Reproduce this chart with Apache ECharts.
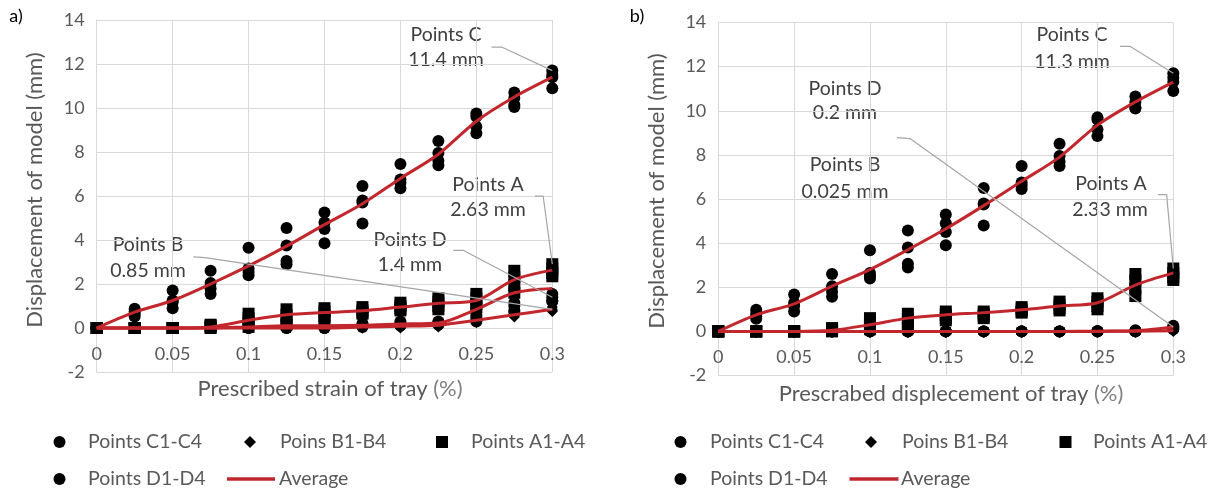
<!DOCTYPE html>
<html>
<head>
<meta charset="utf-8">
<script src="https://cdn.jsdelivr.net/npm/echarts@6/dist/echarts.min.js"></script>
<style>
  html, body { margin: 0; padding: 0; background: #fff; }
  #chart { width: 1213px; height: 492px; }
</style>
</head>
<body>
<div id="chart"></div>
<script>
// Prescribed strain / displacement steps of the tray (%)
const strain = [0, 0.025, 0.05, 0.075, 0.1, 0.125, 0.15, 0.175, 0.2, 0.225, 0.25, 0.275, 0.3];
const xTicks = ['0', '0.05', '0.1', '0.15', '0.2', '0.25', '0.3'];
const yTicks = ['-2', '0', '2', '4', '6', '8', '10', '12', '14'];

// ---- Panel a): displacement of model points (mm), four gauges per step ----
const aPointsC = [
  [0, 0, 0, 0], [0.88, 0.75, 0.65, 0.52], [1.7, 1.25, 1.17, 0.9], [2.6, 2.05, 1.8, 1.55],
  [3.65, 2.7, 2.55, 2.4], [4.55, 3.75, 3.05, 2.9], [5.25, 4.8, 4.5, 3.85], [6.45, 5.8, 5.7, 4.75],
  [7.45, 6.75, 6.6, 6.35], [8.5, 7.95, 7.6, 7.4], [9.75, 9.6, 9.15, 8.85], [10.7, 10.45, 10.15, 10.05],
  [11.7, 11.5, 11.4, 10.9]
];
const aPointsB = [
  [0, 0, 0, 0], [0, 0, 0, 0], [0, 0, 0, 0], [0, 0, 0, 0], [0, 0, 0, 0], [0, 0, 0, 0], [0, 0, 0, 0],
  [0.1, 0.05, 0, 0], [0.15, 0.1, 0.05, 0], [0.2, 0.15, 0.1, 0.05], [0.45, 0.35, 0.3, 0.25],
  [0.75, 0.6, 0.55, 0.5], [0.95, 0.85, 0.8, 0.75]
];
const aPointsA = [
  [0, 0, 0, 0], [0, 0, 0, 0], [0, 0, 0, 0], [0.15, 0.1, 0.05, 0], [0.65, 0.45, 0.25, 0.05],
  [0.85, 0.6, 0.4, 0.15], [0.9, 0.75, 0.55, 0.4], [0.95, 0.8, 0.7, 0.65], [1.15, 1.0, 0.9, 0.8],
  [1.35, 1.2, 1.0, 0.85], [1.55, 1.35, 1.1, 0.95], [2.6, 2.3, 1.95, 1.6], [2.9, 2.7, 2.5, 2.35]
];
const aPointsD = [
  [0, 0, 0, 0], [0, 0, 0, 0], [0, 0, 0, 0], [0, 0, 0, 0], [0.15, 0.05, 0, 0], [0.3, 0.1, 0, 0],
  [0.3, 0.1, 0, 0], [0.2, 0.15, 0.1, 0.05], [0.3, 0.2, 0.15, 0.1], [0.3, 0.25, 0.2, 0.15],
  [0.6, 0.5, 0.35, 0.3], [1.15, 1.0, 0.8, 0.7], [1.55, 1.4, 1.25, 1.2]
];
const aAvgC = [0, 0.72, 1.25, 2.0, 2.82, 3.72, 4.7, 5.65, 6.8, 7.9, 9.4, 10.5, 11.4];
const aAvgA = [0, 0, 0, 0.05, 0.35, 0.6, 0.7, 0.78, 0.95, 1.12, 1.25, 2.2, 2.63];
const aAvgD = [0, 0, 0, 0, 0.05, 0.1, 0.1, 0.12, 0.18, 0.23, 0.85, 1.6, 1.8];
const aAvgB = [0, 0, 0, 0, 0, 0, 0, 0.04, 0.08, 0.13, 0.35, 0.6, 0.85];

// ---- Panel b) ----
const bPointsC = [
  [0, 0, 0, 0], [0.98, 0.8, 0.68, 0.57], [1.67, 1.3, 1.15, 0.9], [2.6, 2.05, 1.8, 1.57],
  [3.68, 2.65, 2.5, 2.4], [4.57, 3.8, 3.07, 2.9], [5.3, 4.9, 4.5, 3.9], [6.5, 5.8, 5.75, 4.8],
  [7.5, 6.75, 6.6, 6.45], [8.5, 7.95, 7.7, 7.5], [9.7, 9.6, 9.15, 8.85], [10.65, 10.4, 10.15, 10.1],
  [11.7, 11.5, 11.3, 10.9]
];
const bPointsB = [
  [0, 0, 0, 0], [0, 0, 0, 0], [0, 0, 0, 0], [0, 0, 0, 0], [0, 0, 0, 0], [0, 0, 0, 0], [0, 0, 0, 0],
  [0, 0, 0, 0], [0, 0, 0, 0], [0, 0, 0, 0], [0, 0, 0, 0], [0.02, 0, 0, 0], [0.1, 0.05, 0.025, 0]
];
const bPointsA = [
  [0, 0, 0, 0], [0, 0, 0, 0], [0, 0, 0, 0], [0.15, 0.1, 0.05, 0], [0.6, 0.4, 0.25, 0.1],
  [0.8, 0.55, 0.35, 0.15], [0.9, 0.75, 0.6, 0.5], [0.9, 0.8, 0.7, 0.6], [1.1, 1.0, 0.9, 0.85],
  [1.35, 1.2, 1.05, 0.95], [1.5, 1.35, 1.15, 1.0], [2.6, 2.3, 1.95, 1.6], [2.85, 2.65, 2.45, 2.33]
];
const bPointsD = [
  [0, 0, 0, 0], [0, 0, 0, 0], [0, 0, 0, 0], [0, 0, 0, 0], [0, 0, 0, 0], [0, 0, 0, 0], [0, 0, 0, 0],
  [0, 0, 0, 0], [0, 0, 0, 0], [0, 0, 0, 0], [0.02, 0, 0, 0], [0.05, 0, 0, 0], [0.25, 0.2, 0.15, 0.1]
];
const bAvgC = [0, 0.75, 1.25, 2.05, 2.8, 3.7, 4.65, 5.7, 6.8, 7.9, 9.35, 10.4, 11.3];
const bAvgA = [0, 0, 0, 0.05, 0.3, 0.6, 0.75, 0.85, 0.98, 1.15, 1.3, 2.1, 2.65];
const bAvgD = [0, 0, 0, 0, 0, 0, 0, 0, 0, 0, 0.01, 0.03, 0.2];
const bAvgB = [0, 0, 0, 0, 0, 0, 0, 0, 0, 0, 0, 0.005, 0.025];

// Callout leader lines in data units (x in %, y in mm)
const aLeaderC = [[0.260, 12.77], [0.2666, 12.77], [0.3, 11.7]];
const aLeaderA = [[0.2885, 5.99], [0.294, 5.99], [0.3, 2.9]];
const aLeaderD = [[0.2348, 3.53], [0.2413, 3.53], [0.3, 1.4]];
const aLeaderB = [[0.0636, 3.23], [0.0713, 3.2], [0.3, 0.85]];
const bLeaderC = [[0.2649, 12.92], [0.2714, 12.92], [0.3, 11.7]];
const bLeaderA = [[0.29, 6.2], [0.2956, 6.2], [0.3, 2.85]];
const bLeaderD = [[0.1178, 8.78], [0.1264, 8.74], [0.3, 0.2]];

const FONT = 'Lato, "Open Sans", sans-serif';
const TXT = '#595959';
const RED = '#c1272d';
const GRID = '#d9d9d9';
const Y_MIN = -2, Y_MAX = 14;

// Plot areas of the two panels
const grids = [
  { left: 96.7, top: 20, width: 455.6, height: 352 },
  { left: 718.3, top: 22.5, width: 455, height: 353 }
];

function pairs(values) {
  const out = [];
  values.forEach((vals, i) => vals.forEach(v => out.push([strain[i], v])));
  return out;
}
function line(values) { return values.map((v, i) => [strain[i], v]); }

// The horizontal axis crosses the vertical one at 0: shift it up from the bottom edge
const xAxisBase = (gridIndex) => ({
  type: 'value', gridIndex, min: 0, max: 0.3, interval: 0.05, position: 'bottom',
  offset: -grids[gridIndex].height * (0 - Y_MIN) / (Y_MAX - Y_MIN),
  axisLine: { onZero: false, lineStyle: { color: GRID, width: 1 } },
  axisTick: { show: false },
  axisLabel: {
    color: TXT, fontSize: 18, fontFamily: FONT, margin: 17,
    formatter: (v) => xTicks[Math.round(v / 0.05)]
  },
  splitLine: { show: true, lineStyle: { color: GRID, width: 1 } }
});
const yAxisBase = (gridIndex) => ({
  type: 'value', gridIndex, min: Y_MIN, max: Y_MAX, interval: 2,
  axisLine: { show: true, onZero: false, lineStyle: { color: GRID, width: 1 } },
  axisTick: { show: false },
  axisLabel: {
    color: TXT, fontSize: 18, fontFamily: FONT, margin: 12,
    formatter: (v) => yTicks[Math.round((v - Y_MIN) / 2)]
  },
  splitLine: { show: true, lineStyle: { color: GRID, width: 1 } }
});

function scatter(name, data, symbol, size, idx) {
  return {
    name, type: 'scatter', xAxisIndex: idx, yAxisIndex: idx,
    data: pairs(data), symbol, symbolSize: size,
    itemStyle: { color: '#000', opacity: 1 }, z: 3, silent: true
  };
}
function avg(data, idx) {
  return {
    name: 'Average', type: 'line', xAxisIndex: idx, yAxisIndex: idx,
    data: line(data), smooth: 0.3, showSymbol: false, symbol: 'none',
    lineStyle: { color: RED, width: 3 }, itemStyle: { color: RED }, z: 4, silent: true
  };
}
function leader(pts, idx) {
  return {
    type: 'line', xAxisIndex: idx, yAxisIndex: idx, data: pts,
    symbol: 'none', showSymbol: false,
    lineStyle: { color: '#a6a6a6', width: 1.2 }, z: 5, silent: true
  };
}

function panelSeries(idx, C, B, A, D, avgC, avgA, avgD, avgB) {
  return [
    scatter('Points C1-C4', C, 'circle', 12, idx),
    scatter('Poins B1-B4', B, 'diamond', 11, idx),
    scatter('Points A1-A4', A, 'rect', 12, idx),
    scatter('Points D1-D4', D, 'circle', 12, idx),
    avg(avgC, idx), avg(avgA, idx), avg(avgD, idx), avg(avgB, idx)
  ];
}

// Legend entries placed one by one.
// marks: [iconCenterX, textLeft] for C, B, A, D; avgLine: [lineStart, lineEnd, textLeft]
const LEG_FONT = 19.5;
function legends(marks, avgLine) {
  const items = [
    { name: 'Points C1-C4', icon: 'circle', row: 0 },
    { name: 'Poins B1-B4', icon: 'diamond', row: 0 },
    { name: 'Points A1-A4', icon: 'rect', row: 0 },
    { name: 'Points D1-D4', icon: 'circle', row: 1 }
  ];
  const rowTop = [432, 469];
  const out = items.map((it, i) => {
    const iconLeft = marks[i][0] - 6;
    return {
      left: iconLeft, top: rowTop[it.row], padding: 0,
      itemWidth: 12, itemHeight: 12, selectedMode: false,
      data: [{ name: it.name, icon: it.icon }],
      textStyle: { color: TXT, fontSize: LEG_FONT, fontFamily: FONT,
        padding: [0, 0, 0, marks[i][1] - iconLeft - 17] }
    };
  });
  const w = avgLine[1] - avgLine[0];
  out.push({
    left: avgLine[0], top: rowTop[1], padding: 0, itemWidth: w, itemHeight: 3.5, selectedMode: false,
    data: [{ name: 'Average', icon: 'rect' }],
    textStyle: { color: TXT, fontSize: LEG_FONT, fontFamily: FONT,
      padding: [0, 0, 0, avgLine[2] - avgLine[0] - w - 5] }
  });
  return out;
}

function txt(text, x, y, size, color) {
  return {
    type: 'text', x, y, silent: true,
    style: { text, fill: color || '#404040', font: size + 'px ' + FONT,
      textAlign: 'center', textVerticalAlign: 'middle', align: 'center', verticalAlign: 'middle' }
  };
}
function vtxt(text, x, y) {
  return {
    type: 'text', x, y, rotation: Math.PI / 2, silent: true,
    style: { text, fill: TXT, font: '22px ' + FONT,
      textAlign: 'center', textVerticalAlign: 'middle', align: 'center', verticalAlign: 'middle' }
  };
}
function xtitle(main, x, y) {
  return {
    type: 'text', x, y, silent: true,
    style: {
      text: '{m|' + main + ' }{p|(%)}',
      rich: {
        m: { fill: TXT, font: '22px ' + FONT },
        p: { fill: '#7f7f7f', font: '22px ' + FONT }
      },
      textAlign: 'center', textVerticalAlign: 'middle', align: 'center', verticalAlign: 'middle'
    }
  };
}

const NOTE = 19.5;
const chart = echarts.init(document.getElementById('chart'), null, { renderer: 'canvas' });
chart.setOption({
  animation: false,
  backgroundColor: '#fff',
  grid: grids,
  xAxis: [xAxisBase(0), xAxisBase(1)],
  yAxis: [yAxisBase(0), yAxisBase(1)],
  legend: legends([[59.5, 88], [250, 280], [442, 471], [59.5, 88]], [227, 275, 279])
    .concat(legends([[680.5, 710], [871, 902], [1065.5, 1093], [680.5, 710]], [849.5, 898.5, 901])),
  series: [].concat(
    panelSeries(0, aPointsC, aPointsB, aPointsA, aPointsD, aAvgC, aAvgA, aAvgD, aAvgB),
    panelSeries(1, bPointsC, bPointsB, bPointsA, bPointsD, bAvgC, bAvgA, bAvgD, bAvgB),
    [leader(aLeaderC, 0), leader(aLeaderA, 0), leader(aLeaderD, 0), leader(aLeaderB, 0),
     leader(bLeaderC, 1), leader(bLeaderA, 1), leader(bLeaderD, 1)]
  ),
  graphic: [
    txt('a)', 16, 16, 18, '#000'),
    txt('b)', 637, 16, 18, '#000'),
    vtxt('Displacement of model (mm)', 35, 190),
    vtxt('Displacement of model (mm)', 657, 191),
    xtitle('Prescribed strain of tray', 330, 389),
    xtitle('Prescrabed displecement of tray', 951, 394),
    txt('Points C', 446, 35, NOTE), txt('11.4 mm', 446, 60, NOTE),
    txt('Points A', 488, 185, NOTE), txt('2.63 mm', 488, 210, NOTE),
    txt('Points D', 410, 240, NOTE), txt('1.4 mm', 410, 265, NOTE),
    txt('Points B', 148, 245, NOTE), txt('0.85 mm', 148, 271, NOTE),
    txt('Points C', 1072, 35, NOTE), txt('11.3 mm', 1072, 62, NOTE),
    txt('Points A', 1111, 184, NOTE), txt('2.33 mm', 1110, 210, NOTE),
    txt('Points D', 845, 89, NOTE), txt('0.2 mm', 845, 113, NOTE),
    txt('Points B', 845, 165, NOTE), txt('0.025 mm', 845, 192, NOTE)
  ]
});
</script>
</body>
</html>
